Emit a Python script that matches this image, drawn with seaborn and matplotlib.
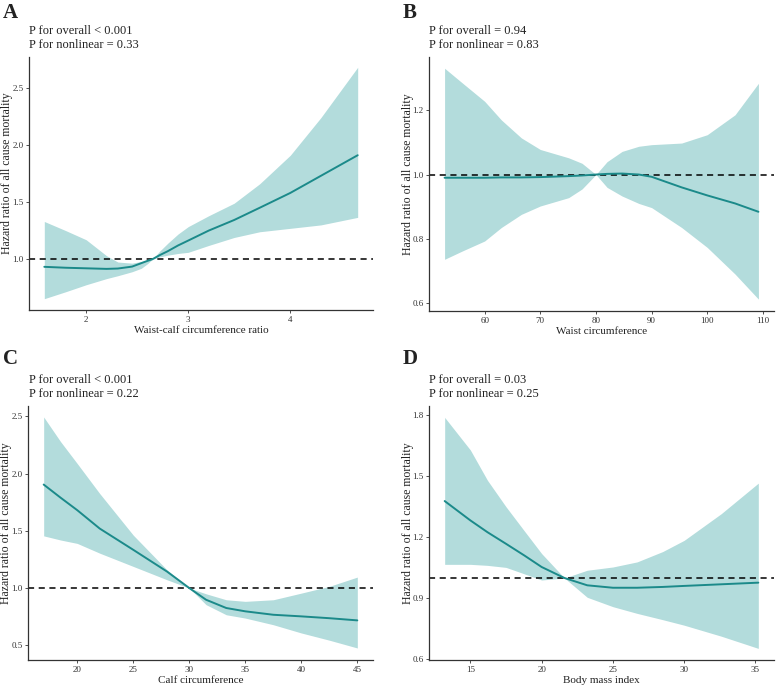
import matplotlib
matplotlib.use("Agg")
import matplotlib.pyplot as plt
import seaborn as sns
import pandas as pd

# Panel A: waist-calf circumference ratio
a_x = [1.59, 1.8, 2.0, 2.2, 2.31, 2.45, 2.54, 2.6, 2.65, 2.72, 2.8, 2.9, 3.0, 3.2, 3.45, 3.7, 4.0, 4.3, 4.66]
a_hr = [0.933, 0.925, 0.92, 0.915, 0.918, 0.935, 0.965, 0.985, 1.0, 1.035, 1.07, 1.12, 1.163, 1.25, 1.343, 1.45, 1.58, 1.73, 1.91]
a_lo = [0.654, 0.715, 0.776, 0.83, 0.855, 0.89, 0.92, 0.96, 1.0, 1.02, 1.035, 1.05, 1.06, 1.12, 1.19, 1.24, 1.27, 1.30, 1.366]
a_hi = [1.33, 1.25, 1.17, 1.03, 0.975, 0.965, 0.98, 0.99, 1.0, 1.07, 1.14, 1.22, 1.285, 1.38, 1.49, 1.66, 1.91, 2.24, 2.68]

# Panel B: waist circumference
b_x = [52.8, 56, 60, 63, 66.6, 70, 75.1, 77.5, 80, 82, 84.7, 87.7, 90, 95.4, 100, 105, 109.2]
b_hr = [0.99, 0.99, 0.99, 0.991, 0.991, 0.992, 0.995, 0.997, 1.0, 1.002, 1.003, 1.0, 0.993, 0.96, 0.935, 0.91, 0.884]
b_lo = [0.736, 0.762, 0.793, 0.835, 0.876, 0.902, 0.928, 0.955, 1.0, 0.96, 0.933, 0.91, 0.897, 0.835, 0.773, 0.69, 0.612]
b_hi = [1.331, 1.285, 1.228, 1.17, 1.114, 1.078, 1.052, 1.035, 1.0, 1.04, 1.072, 1.088, 1.093, 1.098, 1.124, 1.186, 1.284]

# Panel C: calf circumference
c_x = [17, 18.5, 20, 22, 25, 28, 30, 31.5, 33.3, 35, 37.5, 40, 42.5, 45]
c_hr = [1.904, 1.79, 1.68, 1.52, 1.334, 1.145, 1.0, 0.898, 0.826, 0.797, 0.767, 0.753, 0.737, 0.718]
c_lo = [1.456, 1.42, 1.39, 1.305, 1.189, 1.073, 1.0, 0.855, 0.767, 0.738, 0.68, 0.608, 0.545, 0.477]
c_hi = [2.494, 2.28, 2.087, 1.826, 1.462, 1.16, 1.0, 0.95, 0.898, 0.884, 0.898, 0.956, 1.015, 1.096]

# Panel D: body mass index
d_x = [13.2, 15, 16.2, 17.5, 18.8, 20, 21.6, 23.2, 25, 26.7, 28.5, 30, 32.6, 35.2]
d_hr = [1.378, 1.283, 1.225, 1.168, 1.11, 1.054, 1.0, 0.964, 0.952, 0.952, 0.956, 0.961, 0.969, 0.977]
d_lo = [1.067, 1.067, 1.062, 1.052, 1.02, 0.99, 1.0, 0.905, 0.859, 0.826, 0.795, 0.768, 0.714, 0.654]
d_hi = [1.789, 1.629, 1.48, 1.35, 1.23, 1.12, 1.0, 1.038, 1.054, 1.079, 1.13, 1.185, 1.316, 1.466]

letters = ["A", "B", "C", "D"]
xlabels = ["Waist-calf circumference ratio", "Waist circumference",
           "Calf circumference", "Body mass index"]
p_texts = ["P for overall < 0.001\nP for nonlinear = 0.33",
           "P for overall = 0.94\nP for nonlinear = 0.83",
           "P for overall < 0.001\nP for nonlinear = 0.22",
           "P for overall = 0.03\nP for nonlinear = 0.25"]
xticks = [[2, 3, 4], [60, 70, 80, 90, 100, 110], [20, 25, 30, 35, 40, 45], [15, 20, 25, 30, 35]]
yticks = [[1.0, 1.5, 2.0, 2.5], [0.6, 0.8, 1.0, 1.2], [0.5, 1.0, 1.5, 2.0, 2.5], [0.6, 0.9, 1.2, 1.5, 1.8]]
xlims = [(1.44, 4.81), (50.0, 112.0), (15.6, 46.4), (12.1, 36.3)]
ylims = [(0.555, 2.77), (0.575, 1.366), (0.372, 2.59), (0.597, 1.845)]

series = [(a_x, a_hr, a_lo, a_hi), (b_x, b_hr, b_lo, b_hi),
          (c_x, c_hr, c_lo, c_hi), (d_x, d_hr, d_lo, d_hi)]

sns.set_theme(style="ticks")
plt.rcParams['font.family'] = ['Liberation Serif', 'DejaVu Serif']

W, H = 777, 686
fig = plt.figure(figsize=(W / 100, H / 100), dpi=100)

# axes boxes in pixels: left, top, right, bottom
boxes = [(29, 57, 373, 310), (429, 57, 774, 311),
         (28, 406, 373, 660), (429, 406, 774, 660)]
letter_pos = [(3, 3), (403, 3), (3, 349), (403, 349)]
text_pos = [(29, 25), (429, 25), (29, 374), (429, 374)]

line_col = "#1b8a8a"
band_col = "#b3dcdc"

for i, (x, hr, lo, hi) in enumerate(series):
    l, t, r, b = boxes[i]
    ax = fig.add_axes([l / W, 1 - b / H, (r - l) / W, (b - t) / H])
    df = pd.DataFrame({'x': x, 'hr': hr, 'lo': lo, 'hi': hi})
    ax.fill_between(df['x'], df['lo'], df['hi'], color=band_col, lw=0)
    ax.axhline(1.0, color="black", ls=(0, (4, 3)), lw=1.1)
    sns.lineplot(data=df, x='x', y='hr', ax=ax, color=line_col, lw=1.4)
    ax.set_xlim(*xlims[i])
    ax.set_ylim(*ylims[i])
    ax.set_xticks(xticks[i])
    ax.set_yticks(yticks[i])
    ax.set_xticklabels([str(v) for v in xticks[i]])
    ax.set_yticklabels([f"{v:.1f}" for v in yticks[i]])
    ax.tick_params(labelsize=6.5, length=2.5, width=0.6, color="#333333",
                   labelcolor="#333333", pad=1.5)
    for s in ["top", "right"]:
        ax.spines[s].set_visible(False)
    for s in ["left", "bottom"]:
        ax.spines[s].set_color("#333333")
        ax.spines[s].set_linewidth(0.9)
    ax.set_xlabel(xlabels[i], fontsize=8, color="#222222", labelpad=2)
    ax.set_ylabel("Hazard ratio of all cause mortality", fontsize=8.5,
                  color="#222222")
    ax.yaxis.set_label_coords(-15.5 / (r - l), 0.54)
    lx, ly = letter_pos[i]
    fig.text(lx / W, 1 - ly / H, letters[i], fontsize=15, fontweight="bold",
             ha="left", va="top", color="#222222")
    tx, ty = text_pos[i]
    fig.text(tx / W, 1 - ty / H, p_texts[i], fontsize=9, ha="left", va="top",
             linespacing=1.2, color="#222222")

fig.savefig("out.png", dpi=100)
